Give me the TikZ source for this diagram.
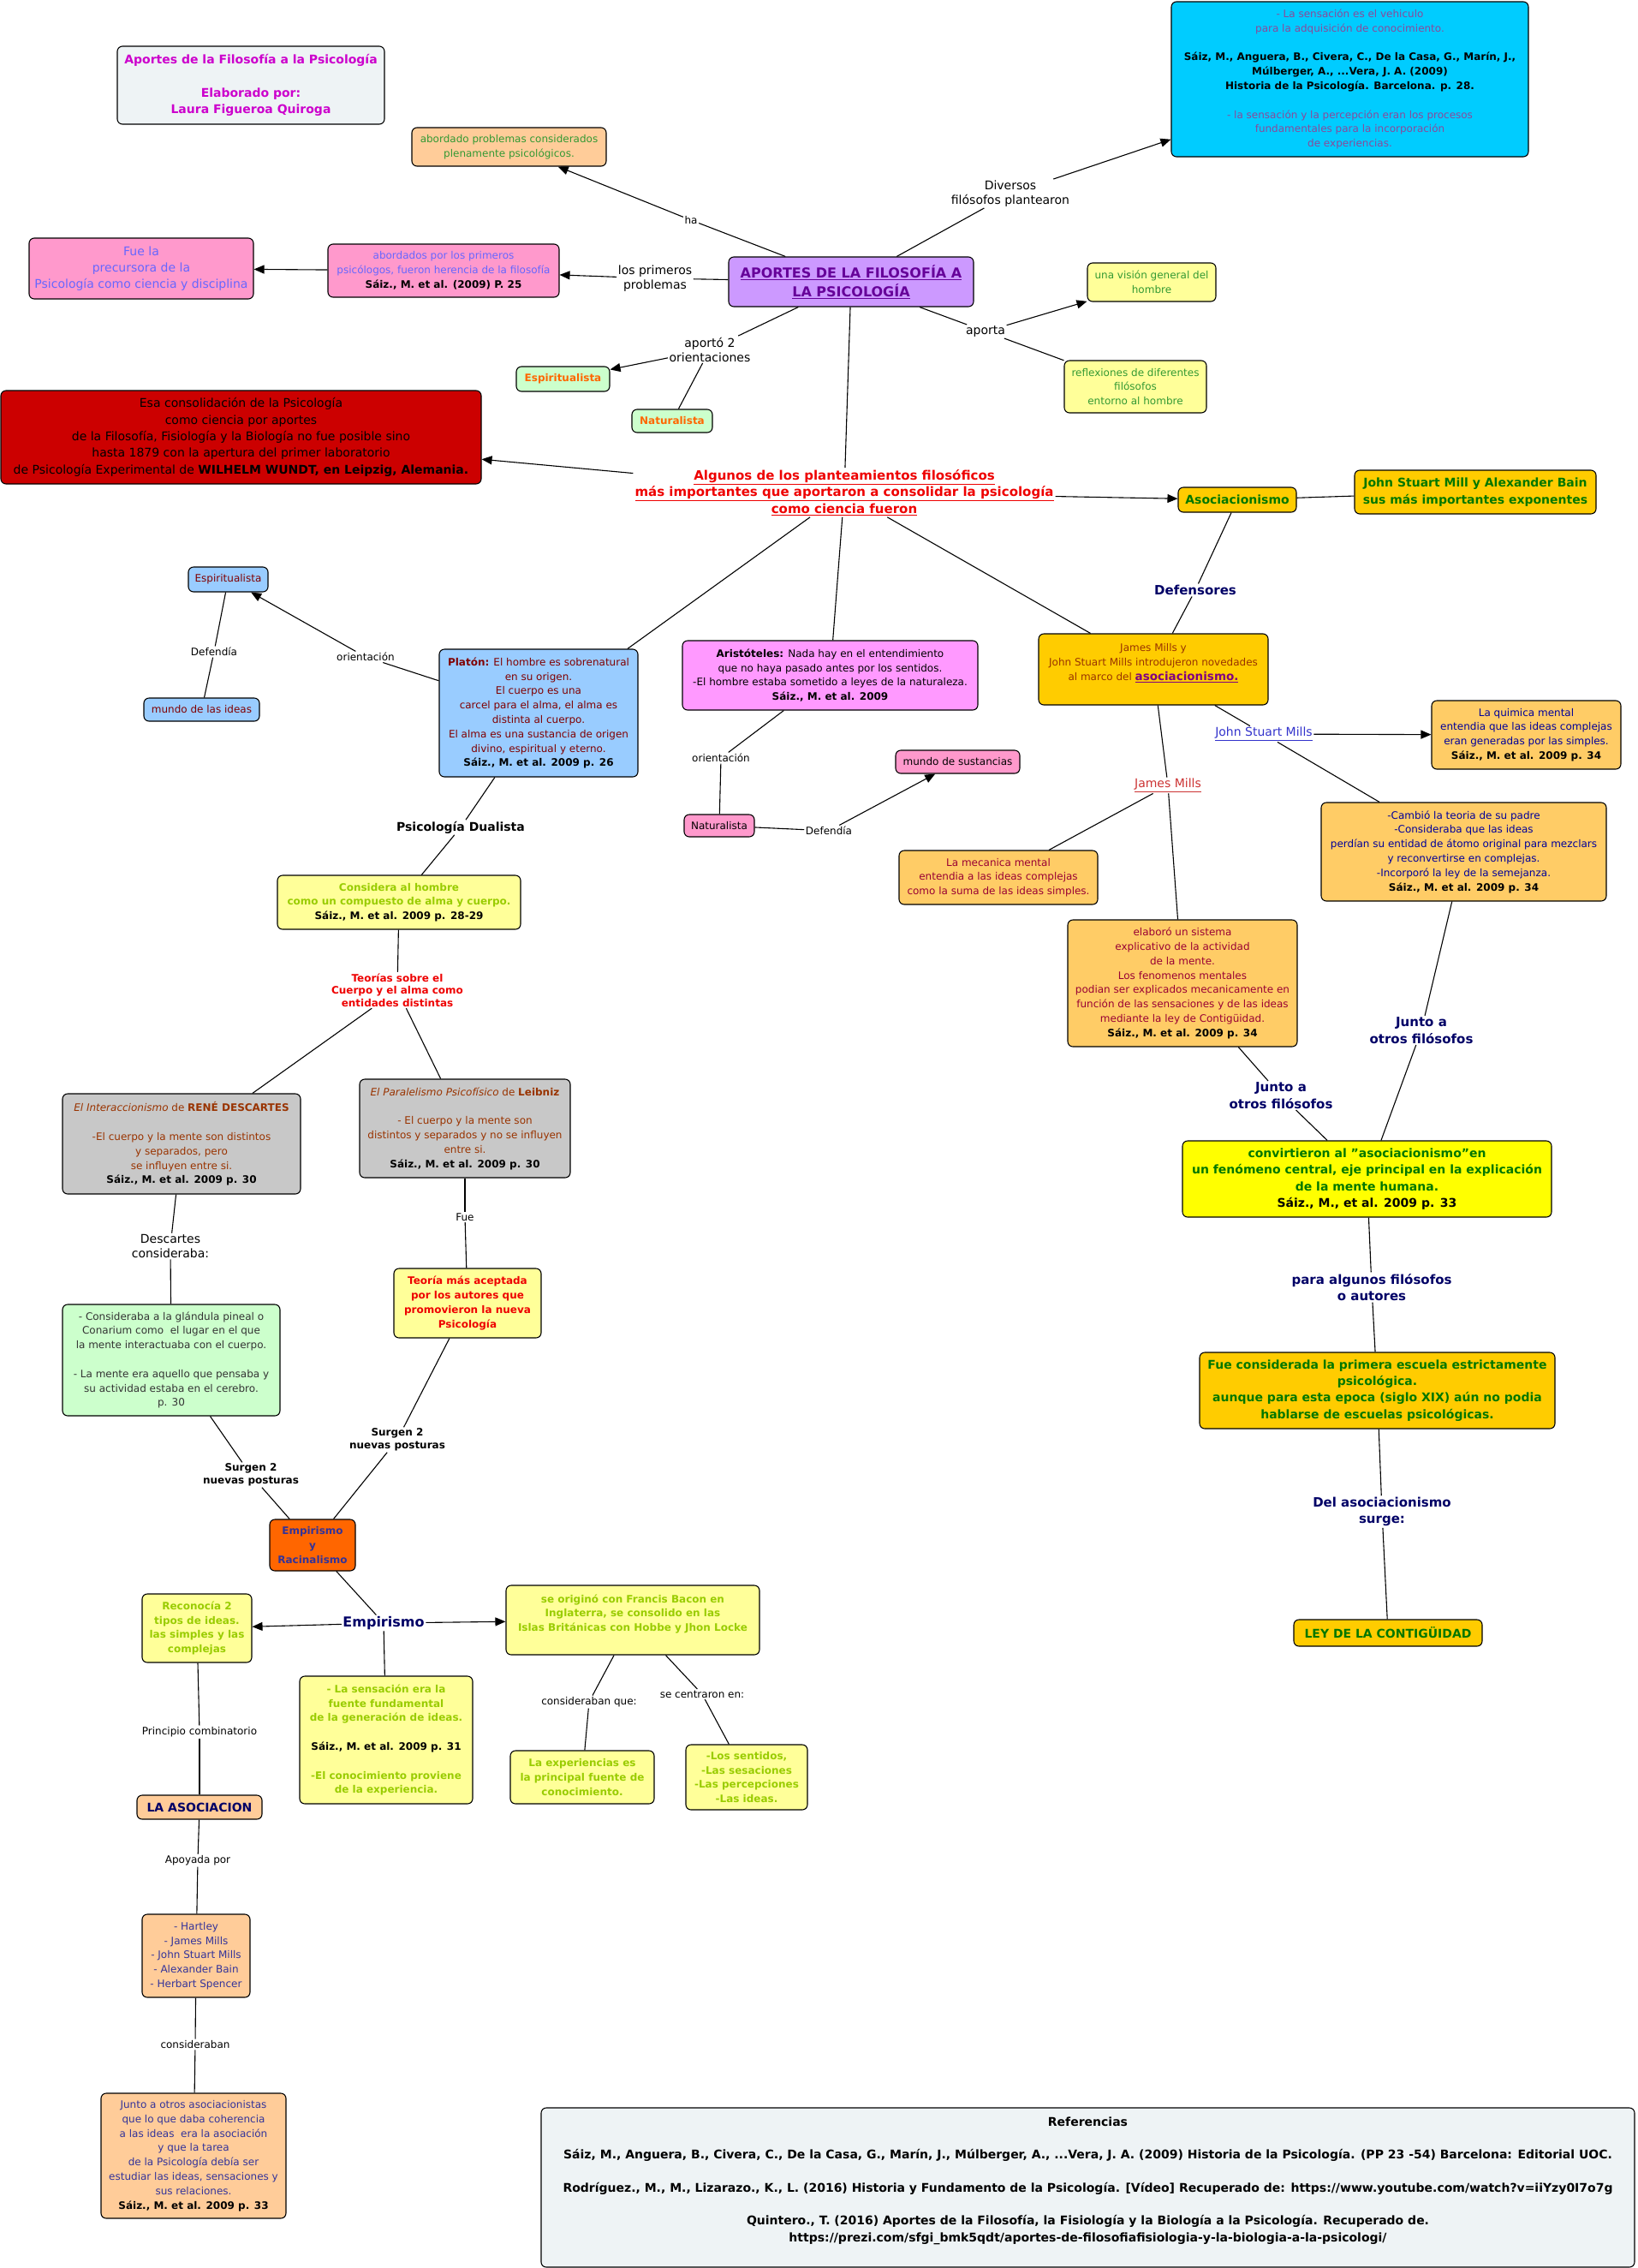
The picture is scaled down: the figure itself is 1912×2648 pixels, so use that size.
\documentclass[tikz,border=0pt]{standalone}
\usepackage{fontspec}
\setmainfont{DejaVu Sans}
\usetikzlibrary{arrows.meta}
\definecolor{cTitle}{HTML}{CC00CC}
\definecolor{cPaleBg}{HTML}{EEF3F5}
\definecolor{cPeach}{HTML}{FFCC99}
\definecolor{cGreenTxt}{HTML}{339933}
\definecolor{cCyan}{HTML}{00CCFF}
\definecolor{cPurpTxt}{HTML}{8A4A9A}
\definecolor{cLav}{HTML}{CC99FF}
\definecolor{cMainTxt}{HTML}{660099}
\definecolor{cPink}{HTML}{FF99CC}
\definecolor{cBlueTxt}{HTML}{6666FF}
\definecolor{cLYellow}{HTML}{FFFF99}
\definecolor{cLGreen}{HTML}{CCFFCC}
\definecolor{cOrangeTxt}{HTML}{FF6600}
\definecolor{cRedBox}{HTML}{CC0000}
\definecolor{cRedTxt}{HTML}{EE0000}
\definecolor{cGold}{HTML}{FFCC00}
\definecolor{cDGreen}{HTML}{007700}
\definecolor{cSky}{HTML}{99CCFF}
\definecolor{cMaroon}{HTML}{800000}
\definecolor{cViolet}{HTML}{FF99FF}
\definecolor{cJMTxt}{HTML}{993300}
\definecolor{cAsocU}{HTML}{800080}
\definecolor{cApricot}{HTML}{FFCC66}
\definecolor{cNavyTxt}{HTML}{000099}
\definecolor{cWine}{HTML}{990033}
\definecolor{cYellow}{HTML}{FFFF00}
\definecolor{cLime}{HTML}{99CC00}
\definecolor{cGrey}{HTML}{C8C8C8}
\definecolor{cBrown}{HTML}{993300}
\definecolor{cDark}{HTML}{333333}
\definecolor{cOrange}{HTML}{FF6600}
\definecolor{cIndigo}{HTML}{333399}
\definecolor{cNavy}{HTML}{000066}
\definecolor{cLinkBlue}{HTML}{3333CC}
\definecolor{cLinkRed}{HTML}{CC3333}
\newcommand\szS{\fontsize{12}{16.8}\selectfont}
\newcommand\szB{\fontsize{12}{14.6}\selectfont}
\newcommand\szN{\fontsize{14}{17}\selectfont}
\newcommand\szM{\fontsize{14}{19.3}\selectfont}
\newcommand\szL{\fontsize{15}{19.5}\selectfont}
\newcommand\szX{\fontsize{16}{22}\selectfont}
\begin{document}
\begin{tikzpicture}[x=1pt,y=-1pt,
  box/.style={draw=black, line width=1.1pt, rounded corners=6pt, align=center, inner sep=3pt},
  wh/.style 2 args={minimum width=#1pt, minimum height=#2pt},
  lbl/.style={align=center, inner sep=1.5pt, text=black},
  con/.style={line width=1.1pt, draw=black},
  arr/.style={con, -{Triangle[length=12pt,width=10pt]}}]
\useasboundingbox (0,0) rectangle (1912,2648);
\fill[white] (0,0) rectangle (1912,2648);

% ---------- boxes ----------
\node[box, wh={312}{91}, fill=cPaleBg, text=cTitle, font=\szM\bfseries] (title) at (293,99.5)
 {Aportes de la Filosofía a la Psicología\\[19.3pt]Elaborado por:\\Laura Figueroa Quiroga};
\node[box, wh={227}{45}, fill=cPeach, text=cGreenTxt, font=\szS] (abord) at (594.5,171.5)
 {abordado problemas considerados\\plenamente psicológicos.};
\node[box, wh={417}{181}, fill=cCyan, text=cPurpTxt, font=\szS] (cyan) at (1576.5,92.5)
 {- La sensación es el vehiculo\\para la adquisición de conocimiento.\\[16.8pt]{\color{black}\bfseries Sáiz, M., Anguera, B., Civera, C., De la Casa, G., Marín, J.,}\\{\color{black}\bfseries Múlberger, A., ...Vera, J. A. (2009)}\\{\color{black}\bfseries Historia de la Psicología. Barcelona. p. 28.}\\[16.8pt]- la sensación y la percepción eran los procesos\\fundamentales para la incorporación\\de experiencias.};
\node[box, wh={286}{58}, fill=cLav, text=cMainTxt, font=\szX\bfseries] (main) at (994,329)
 {\underline{APORTES DE LA FILOSOFÍA A}\\\underline{LA PSICOLOGÍA}};
\node[box, wh={270}{62}, fill=cPink, text=cBlueTxt, font=\szS] (abordados) at (518,316)
 {abordados por los primeros\\psicólogos, fueron herencia de la filosofía\\{\color{black}\bfseries Sáiz., M. et al. (2009) P. 25}};
\node[box, wh={262}{71}, fill=cPink, text=cBlueTxt, font=\szM] (fuela) at (165,313.5)
 {Fue la\\precursora de la\\Psicología como ciencia y disciplina};
\node[box, wh={150}{45}, fill=cLYellow, text=cGreenTxt, font=\szS] (vision) at (1345,329.5)
 {una visión general del\\hombre};
\node[box, wh={166}{61}, fill=cLYellow, text=cGreenTxt, font=\szS] (reflex) at (1326,451.5)
 {reflexiones de diferentes\\filósofos\\entorno al hombre};
\node[box, wh={109}{29}, fill=cLGreen, text=cOrangeTxt, font=\szS\bfseries] (espG) at (657.5,442.5) {Espiritualista};
\node[box, wh={94}{27}, fill=cLGreen, text=cOrangeTxt, font=\szS\bfseries] (natG) at (785,491.5) {Naturalista};
\node[box, wh={561}{109}, fill=cRedBox, text=black, font=\szM] (red) at (281.5,510.5)
 {Esa consolidación de la Psicología\\como ciencia por aportes\\de la Filosofía, Fisiología y la Biología no fue posible sino\\hasta 1879 con la apertura del primer laboratorio\\de Psicología Experimental de \textbf{WILHELM WUNDT, en Leipzig, Alemania.}};
\node[lbl, text=cRedTxt, font=\szL\bfseries, inner sep=2pt] (algunos) at (986,575)
 {\underline{Algunos de los planteamientos filosóficos}\\\underline{más importantes que aportaron a consolidar la psicología}\\\underline{como ciencia fueron}};
\node[box, wh={138}{29}, fill=cGold, text=cDGreen, font=\szM\bfseries] (asoc) at (1445,583.5) {Asociacionismo};
\node[box, wh={282}{51}, fill=cGold, text=cDGreen, font=\szM\bfseries] (jsmab) at (1723,574.5)
 {John Stuart Mill y Alexander Bain\\sus más importantes exponentes};
\node[box, wh={232}{149}, fill=cSky, text=cMaroon, font=\szS] (platon) at (629,832.5)
 {\textbf{Platón:} El hombre es sobrenatural\\en su origen.\\El cuerpo es una\\carcel para el alma, el alma es\\distinta al cuerpo.\\El alma es una sustancia de origen\\divino, espiritual y eterno.\\{\color{black}\bfseries Sáiz., M. et al. 2009 p. 26}};
\node[box, wh={93}{29}, fill=cSky, text=cMaroon, font=\szS] (espB) at (266.5,676.5) {Espiritualista};
\node[box, wh={135}{27}, fill=cSky, text=cMaroon, font=\szS] (mundoI) at (235.5,828.5) {mundo de las ideas};
\node[box, wh={345}{81}, fill=cViolet, text=black, font=\szS] (aristo) at (969.5,788.5)
 {\textbf{Aristóteles:} Nada hay en el entendimiento\\que no haya pasado antes por los sentidos.\\-El hombre estaba sometido a leyes de la naturaleza.\\\textbf{Sáiz., M. et al. 2009}};
\node[box, wh={82}{26}, fill=cPink, text=black, font=\szS] (natP) at (840,964) {Naturalista};
\node[box, wh={145}{27}, fill=cPink, text=black, font=\szS] (mundoS) at (1118.5,889.5) {mundo de sustancias};
\node[box, wh={268}{83}, fill=cGold, text=cJMTxt, font=\szS] (jm) at (1347,781.5)
 {James Mills y\\John Stuart Mills introdujeron novedades\\al marco del {\color{cAsocU}\bfseries\fontsize{13.5}{16.8}\selectfont\underline{asociacionismo.}}\\ ~};
\node[box, wh={221}{80}, fill=cApricot, text=cNavyTxt, font=\szS] (quim) at (1782.5,858)
 {La quimica mental\\entendia que las ideas complejas\\eran generadas por las simples.\\{\color{black}\bfseries Sáiz., M. et al. 2009 p. 34}};
\node[box, wh={333}{115}, fill=cApricot, text=cNavyTxt, font=\szS] (cambio) at (1709.5,994.5)
 {-Cambió la teoria de su padre\\-Consideraba que las ideas\\perdían su entidad de átomo original para mezclars\\y reconvertirse en complejas.\\-Incorporó la ley de la semejanza.\\{\color{black}\bfseries Sáiz., M. et al. 2009 p. 34}};
\node[box, wh={232}{63}, fill=cApricot, text=cWine, font=\szS] (mecan) at (1166,1024.5)
 {La mecanica mental\\entendia a las ideas complejas\\como la suma de las ideas simples.};
\node[box, wh={268}{148}, fill=cApricot, text=cWine, font=\szS] (elab) at (1381,1148)
 {elaboró un sistema\\explicativo de la actividad\\de la mente.\\Los fenomenos mentales\\podian ser explicados mecanicamente en\\función de las sensaciones y de las ideas\\mediante la ley de Contigüidad.\\{\color{black}\bfseries Sáiz., M. et al. 2009 p. 34}};
\node[box, wh={431}{89}, fill=cYellow, text=cDGreen, font=\szM\bfseries] (convir) at (1596.5,1376.5)
 {convirtieron al "asociacionismo"en\\un fenómeno central, eje principal en la explicación\\de la mente humana.\\{\color{black}Sáiz., M., et al. 2009 p. 33}};
\node[box, wh={415}{89}, fill=cGold, text=cDGreen, font=\szM\bfseries] (fuecons) at (1608.5,1623.5)
 {Fue considerada la primera escuela estrictamente\\psicológica.\\aunque para esta epoca (siglo XIX) aún no podia\\hablarse de escuelas psicológicas.};
\node[box, wh={220}{31}, fill=cGold, text=cDGreen, font=\szM\bfseries] (ley) at (1621,1906.5) {LEY DE LA CONTIGÜIDAD};
\node[box, wh={284}{63}, fill=cLYellow, text=cLime, font=\szS\bfseries] (considera) at (466,1053.5)
 {Considera al hombre\\como un compuesto de alma y cuerpo.\\{\color{black}Sáiz., M. et al. 2009 p. 28-29}};
\node[box, wh={278}{117}, fill=cGrey, text=cBrown, font=\szS] (interac) at (212,1335.5)
 {\textit{El Interaccionismo} de \textbf{RENÉ DESCARTES}\\[16.8pt]-El cuerpo y la mente son distintos\\y separados, pero\\se influyen entre si.\\{\color{black}\bfseries Sáiz., M. et al. 2009 p. 30}};
\node[box, wh={246}{115}, fill=cGrey, text=cBrown, font=\szS] (paral) at (543,1317.5)
 {\textit{El Paralelismo Psicofísico} de \textbf{Leibniz}\\[16.8pt]- El cuerpo y la mente son\\distintos y separados y no se influyen\\entre si.\\{\color{black}\bfseries Sáiz., M. et al. 2009 p. 30}};
\node[box, wh={172}{81}, fill=cLYellow, text=cRedTxt, font=\szS\bfseries] (teoria) at (546,1521.5)
 {Teoría más aceptada\\por los autores que\\promovieron la nueva\\Psicología};
\node[box, wh={254}{130}, fill=cLGreen, text=cDark, font=\szS] (greenB) at (200,1588)
 {- Consideraba a la glándula pineal o\\Conarium como\ \ el lugar en el que\\la mente interactuaba con el cuerpo.\\[16.8pt]- La mente era aquello que pensaba y\\su actividad estaba en el cerebro.\\p. 30};
\node[box, wh={100}{60}, fill=cOrange, text=cIndigo, font=\szS\bfseries] (empR) at (365,1804)
 {Empirismo\\y\\Racinalismo};
\node[box, wh={128}{80}, fill=cLYellow, text=cLime, font=\szS\bfseries] (recon) at (230,1901)
 {Reconocía 2\\tipos de ideas.\\las simples y las\\complejas};
\node[box, wh={296}{81}, fill=cLYellow, text=cLime, font=\szS\bfseries] (origino) at (739,1891.5)
 {se originó con Francis Bacon en\\Inglaterra, se consolido en las\\Islas Británicas con Hobbe y Jhon Locke\\ ~};
\node[box, wh={202}{149}, fill=cLYellow, text=cLime, font=\szS\bfseries] (sensacion) at (451,2031.5)
 {- La sensación era la\\fuente fundamental\\de la generación de ideas.\\[16.8pt]{\color{black}Sáiz., M. et al. 2009 p. 31}\\[16.8pt]-El conocimiento proviene\\de la experiencia.};
\node[box, wh={168}{62}, fill=cLYellow, text=cLime, font=\szS\bfseries] (exper) at (680,2075)
 {La experiencias es\\la principal fuente de\\conocimiento.};
\node[box, wh={142}{76}, fill=cLYellow, text=cLime, font=\szS\bfseries] (sentidos) at (872,2075)
 {-Los sentidos,\\-Las sesaciones\\-Las percepciones\\-Las ideas.};
\node[box, wh={146}{28}, fill=cPeach, text=cNavy, font=\szM\bfseries] (laasoc) at (233,2110) {LA ASOCIACION};
\node[box, wh={126}{97}, fill=cPeach, text=cIndigo, font=\szS] (hartley) at (229,2283.5)
 {- Hartley\\- James Mills\\- John Stuart Mills\\- Alexander Bain\\- Herbart Spencer};
\node[box, wh={216}{146}, fill=cPeach, text=cIndigo, font=\szS] (junto) at (226,2517)
 {Junto a otros asociacionistas\\que lo que daba coherencia\\a las ideas\ \ era la asociación\\y que la tarea\\de la Psicología debía ser\\estudiar las ideas, sensaciones y\\sus relaciones.\\{\color{black}\bfseries Sáiz., M. et al. 2009 p. 33}};
\node[box, wh={1277}{186}, fill=cPaleBg, text=black, font=\szM\bfseries] (refs) at (1270.5,2554)
 {Referencias\\[19.3pt]Sáiz, M., Anguera, B., Civera, C., De la Casa, G., Marín, J., Múlberger, A., ...Vera, J. A. (2009) Historia de la Psicología. (PP 23 -54) Barcelona: Editorial UOC.\\[19.3pt]Rodríguez., M., M., Lizarazo., K., L. (2016) Historia y Fundamento de la Psicología. [Vídeo] Recuperado de: https://www.youtube.com/watch?v=iiYzy0I7o7g\\[19.3pt]Quintero., T. (2016) Aportes de la Filosofía, la Fisiología y la Biología a la Psicología. Recuperado de.\\https://prezi.com/sfgi\_bmk5qdt/aportes-de-filosofiafisiologia-y-la-biologia-a-la-psicologi/\\ ~};

% ---------- linking phrases ----------
\node[lbl, font=\szS] (ha) at (807,257) {ha};
\node[lbl, font=\szN] (divers) at (1180,226) {Diversos\\filósofos plantearon};
\node[lbl, font=\szN] (primeros) at (765,325) {los primeros\\problemas};
\node[lbl, font=\szN] (aporto) at (829,408) {aportó 2\\orientaciones};
\node[lbl, font=\szN] (aporta) at (1151,387) {aporta};
\node[lbl, font=\szL\bfseries, text=cNavy] (defens) at (1396,689) {Defensores};
\node[lbl, font=\szS] (orient1) at (427,767) {orientación};
\node[lbl, font=\szS] (defend1) at (250,761) {Defendía};
\node[lbl, font=\szS] (orient2) at (842,885) {orientación};
\node[lbl, font=\szS] (defend2) at (968,970) {Defendía};
\node[lbl, font=\szN, text=cLinkBlue] (jsmLbl) at (1476,857) {\underline{John Stuart Mills}};
\node[lbl, font=\szN, text=cLinkRed] (jmLbl) at (1364,917) {\underline{James Mills}};
\node[lbl, font=\szN\bfseries] (dual) at (538,966) {Psicología Dualista};
\node[lbl, font=\szB\bfseries, text=cRedTxt] (teorias) at (464,1156) {Teorías sobre el\\Cuerpo y el alma como\\entidades distintas};
\node[lbl, font=\szS] (fue) at (543,1421) {Fue};
\node[lbl, font=\szN] (descart) at (199,1455) {Descartes\\consideraba:};
\node[lbl, font=\szL\bfseries, text=cNavy] (junto1) at (1496,1279) {Junto a\\otros filósofos};
\node[lbl, font=\szL\bfseries, text=cNavy] (junto2) at (1660,1203) {Junto a\\otros filósofos};
\node[lbl, font=\szL\bfseries, text=cNavy] (para) at (1602,1503) {para algunos filósofos\\o autores};
\node[lbl, font=\szL\bfseries, text=cNavy] (delas) at (1614,1765) {Del asociacionismo\\surge:};
\node[lbl, font=\szB\bfseries] (surgen1) at (293,1722) {Surgen 2\\nuevas posturas};
\node[lbl, font=\szB\bfseries] (surgen2) at (464,1681) {Surgen 2\\nuevas posturas};
\node[lbl, font=\szX\bfseries, text=cNavy] (empLbl) at (448,1895) {Empirismo};
\node[lbl, font=\szS] (princ) at (233,2022) {Principio combinatorio};
\node[lbl, font=\szS] (consq) at (688,1987) {consideraban que:};
\node[lbl, font=\szS] (centr) at (820,1978) {se centraron en:};
\node[lbl, font=\szS] (apoy) at (231,2172) {Apoyada por};
\node[lbl, font=\szS] (consid) at (228,2387) {consideraban};

% ---------- connectors ----------
\draw[con] (main) -- (ha);  \draw[arr] (ha) -- (abord);
\draw[con] (main) -- (divers); \draw[arr] (divers) -- (cyan);
\draw[con] (main) -- (primeros); \draw[arr] (primeros) -- (abordados);
\draw[arr] (abordados) -- (fuela);
\draw[con] (main) -- (aporto); \draw[arr] (aporto) -- (espG); \draw[con] (aporto) -- (natG);
\draw[con] (main) -- (aporta); \draw[arr] (aporta) -- (vision); \draw[con] (aporta) -- (reflex);
\draw[con] (main) -- (algunos);
\draw[arr] (algunos) -- (red);
\draw[arr] (algunos) -- (asoc);
\draw[con] (asoc) -- (jsmab);
\draw[con] (asoc) -- (defens); \draw[con] (defens) -- (jm);
\draw[con] (algunos) -- (jm);
\draw[con] (algunos) -- (aristo);
\draw[con] (algunos) -- (platon);
\draw[con] (platon) -- (orient1); \draw[arr] (orient1) -- (espB);
\draw[con] (espB) -- (defend1); \draw[con] (defend1) -- (mundoI);
\draw[con] (platon) -- (dual); \draw[con] (dual) -- (considera);
\draw[con] (aristo) -- (orient2); \draw[con] (orient2) -- (natP);
\draw[con] (natP) -- (defend2); \draw[arr] (defend2) -- (mundoS);
\draw[con] (jm) -- (jsmLbl); \draw[arr] (jsmLbl) -- (quim); \draw[con] (jsmLbl) -- (cambio);
\draw[con] (jm) -- (jmLbl); \draw[con] (jmLbl) -- (mecan); \draw[con] (jmLbl) -- (elab);
\draw[con] (elab) -- (junto1); \draw[con] (junto1) -- (convir);
\draw[con] (cambio) -- (junto2); \draw[con] (junto2) -- (convir);
\draw[con] (convir) -- (para); \draw[con] (para) -- (fuecons);
\draw[con] (fuecons) -- (delas); \draw[con] (delas) -- (ley);
\draw[con] (considera) -- (teorias); \draw[con] (teorias) -- (interac); \draw[con] (teorias) -- (paral);
\draw[con] (paral) -- (fue); \draw[con] (fue) -- (teoria);
\draw[con] (interac) -- (descart); \draw[con] (descart) -- (greenB);
\draw[con] (greenB) -- (surgen1); \draw[con] (surgen1) -- (empR);
\draw[con] (teoria) -- (surgen2); \draw[con] (surgen2) -- (empR);
\draw[con] (empR) -- (empLbl); \draw[arr] (empLbl) -- (recon); \draw[arr] (empLbl) -- (origino); \draw[con] (empLbl) -- (sensacion);
\draw[con] (recon) -- (princ); \draw[con] (princ) -- (laasoc);
\draw[con] (origino) -- (consq); \draw[con] (consq) -- (exper);
\draw[con] (origino) -- (centr); \draw[con] (centr) -- (sentidos);
\draw[con] (laasoc) -- (apoy); \draw[con] (apoy) -- (hartley);
\draw[con] (hartley) -- (consid); \draw[con] (consid) -- (junto);
\end{tikzpicture}
\end{document}
